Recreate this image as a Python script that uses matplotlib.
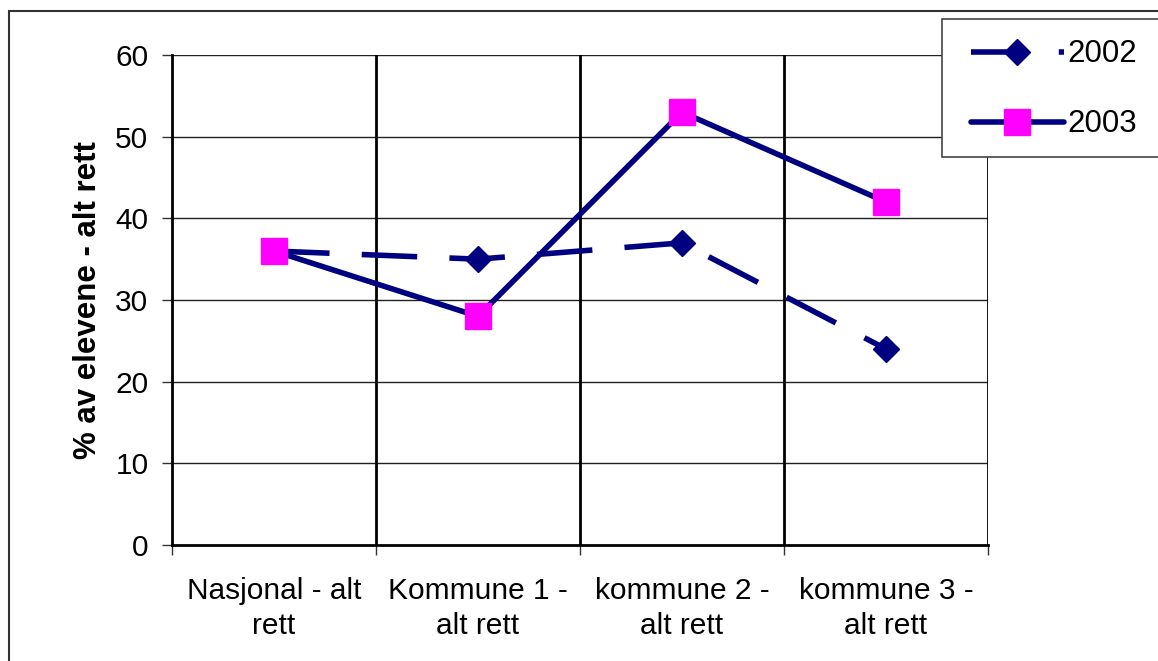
import numpy as np
import matplotlib.pyplot as plt
from matplotlib.patches import Rectangle

plt.rcParams['font.family'] = ['Liberation Sans', 'DejaVu Sans']

categories = ["Nasjonal - alt\nrett", "Kommune 1 -\nalt rett",
              "kommune 2 -\nalt rett", "kommune 3 -\nalt rett"]
vals_2002 = [36, 35, 37, 24]
vals_2003 = [36, 28, 53, 42]
series_names = ["2002", "2003"]
yticks = [0, 10, 20, 30, 40, 50, 60]

W, H = 1158, 661
fig = plt.figure(figsize=(W / 100, H / 100), dpi=100)
ax = fig.add_axes([172 / W, 1 - 545 / H, (988 - 172) / W, (545 - 55) / H])

navy = '#000080'
x = np.arange(len(categories))

ax.plot(x, vals_2002, color=navy, lw=4.0, linestyle=(0, (10, 5.8)),
        marker='D', markersize=13.7, markerfacecolor=navy, markeredgecolor=navy,
        dash_capstyle='butt', label=series_names[0], zorder=3)
ax.plot(x, vals_2003, color=navy, lw=4.0, solid_capstyle='round',
        marker='s', markersize=18.5, markerfacecolor='#ff00ff', markeredgecolor='#ff00ff',
        label=series_names[1], zorder=4)

ax.set_xlim(-0.5, len(categories) - 0.5)
ax.set_ylim(0, 60)
ax.set_yticks(yticks)
ax.set_xticks(x)
ax.set_xticklabels(categories, fontsize=21.5, linespacing=1.33)
ax.set_xticks(np.arange(-0.5, len(categories)), minor=True)
ax.tick_params(axis='x', which='major', length=0, pad=23)
ax.tick_params(axis='x', which='minor', length=7, width=1, direction='out', color='#333333')
ax.tick_params(axis='y', length=7, width=1, labelsize=21.5, pad=10, color='#333333')

for v in yticks[1:]:
    ax.axhline(v, color='#222222', lw=1, zorder=1)
for b in np.arange(0.5, len(categories)):
    ax.axvline(b, color='black', lw=2, zorder=1)

for s in ['top', 'right']:
    ax.spines[s].set_visible(False)
for s in ['left', 'bottom']:
    ax.spines[s].set_linewidth(2)

ax.set_ylabel("% av elevene - alt rett", fontsize=22.5, fontweight='bold', labelpad=9)

# outer chart border
fig.patches.append(Rectangle((9 / W, -0.1), 1.2, 1 - 11 / H + 0.1, transform=fig.transFigure,
                             fill=False, edgecolor='#333333', lw=1.5, zorder=0))
# legend box
fig.patches.append(Rectangle((942 / W, 1 - 157 / H), 0.2, (157 - 19) / H, transform=fig.transFigure,
                             facecolor='white', edgecolor='#444444', lw=1.2, zorder=5))
leg = fig.legend(loc='upper left', bbox_to_anchor=(958 / W, 1 - 27 / H), frameon=False,
                 fontsize=22.5, handlelength=3.0, handletextpad=0.1, labelspacing=1.28,
                 borderaxespad=0)
leg.set_zorder(6)

fig.savefig("out.png", dpi=100)
